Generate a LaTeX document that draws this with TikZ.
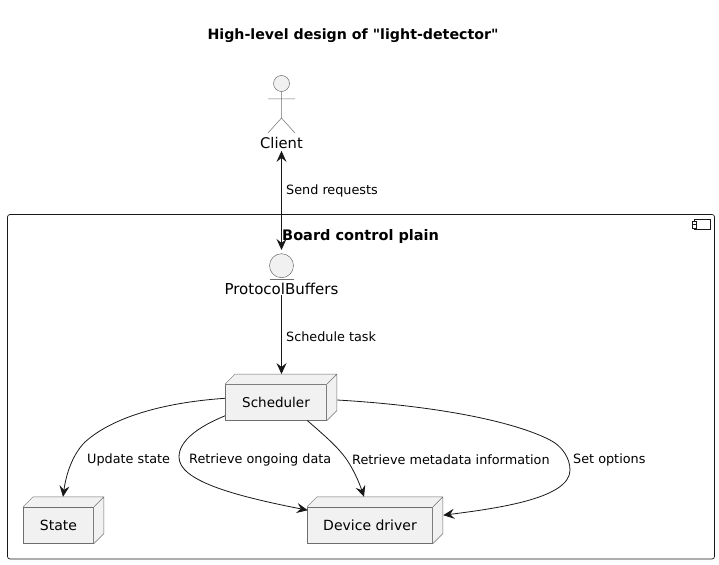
\documentclass[tikz,border=0pt]{standalone}
\usepackage{fontspec}
\setmainfont{DejaVu Sans}
\newfontfamily\plainquote{DejaVu Sans}
\usetikzlibrary{arrows.meta}
\definecolor{linecol}{HTML}{181818}
\definecolor{fillcol}{HTML}{F1F1F1}
\definecolor{edgecol}{HTML}{6E6E6E}
\tikzset{
  big/.style={font=\fontsize{14}{16}\selectfont,inner sep=0pt},
  small/.style={font=\fontsize{12.8}{15}\selectfont,inner sep=0pt,anchor=west},
  boxnode/.style={big,draw=edgecol,fill=fillcol,line width=.5pt},
  conn/.style={draw=linecol,line width=.8pt},
  >={Stealth[length=11pt,width=10pt,inset=4pt]}
}
\begin{document}
\begin{tikzpicture}[x=1pt,y=-1pt]
\useasboundingbox (0,0) rectangle (719,564);
\node [big,font=\fontsize{14.2}{16}\selectfont\plainquote\bfseries] (title) at (353,36) {High-level design of "light-detector"};
% container
\node [draw=linecol,line width=.7pt,rounded corners=2.5pt,minimum width=707pt,minimum height=344.5pt,inner sep=0pt] (plain) at (361,386.75) {};
\node [big,font=\fontsize{14.5}{16}\selectfont\bfseries,anchor=west] (plaintitle) at (282,236) {Board control plain};
\node [draw=linecol,line width=.7pt,minimum width=16pt,minimum height=10pt,inner sep=0pt] (icon) at (702,224.5) {};
\foreach \y in {222.8,226.4}
  \draw [draw=linecol,line width=.7pt,fill=white] (692,\y-1.6) rectangle (696,\y+1.6);
% actor
\node [circle,boxnode,minimum size=16pt] (head) at (281.5,83.5) {};
\coordinate (hip) at (281.5,118);
\coordinate (armleft) at (268,99);
\coordinate (armright) at (295,99);
\coordinate (legleft) at (268,133);
\coordinate (legright) at (295,133);
\draw [draw=edgecol,line width=.5pt] (head) -- (hip) -- (legleft) (hip) -- (legright) (armleft) -- (armright);
\node [big,font=\fontsize{14.7}{16}\selectfont] (client) at (281.5,143) {Client};
% boundary
\node [circle,boxnode,minimum size=24pt] (pbcircle) at (281.5,265.7) {};
\draw [draw=edgecol,line width=.5pt] (269.5,279) -- (293.5,279);
\node [big,font=\fontsize{15}{16}\selectfont] (pb) at (281.5,289) {ProtocolBuffers};
% boxes
\node [boxnode,font=\fontsize{13.5}{16}\selectfont,minimum width=101.4pt,minimum height=36pt] (sched) at (276,402.3) {Scheduler};
\node [boxnode,minimum width=70.4pt,minimum height=36.3pt] (state) at (58.5,525.2) {State};
\node [boxnode,minimum width=125.4pt,minimum height=36.3pt] (driver) at (370,525.2) {Device driver};
\foreach \n in {sched,state,driver} {
  \fill [fillcol] (\n.north west) -- ++(10pt,10pt) -| ([shift={(10pt,10pt)}]\n.south east) -- (\n.south east) -- (\n.north east) -- cycle;
  \draw [draw=edgecol,line width=.5pt] (\n.north west) -- ++(10pt,10pt) -| ([shift={(10pt,10pt)}]\n.south east) -- (\n.south east)
    (\n.north east) -- ++(10pt,10pt);
}
% connectors
\draw [conn,<->] (client.south) ++(0,2) -- ([yshift=3.5pt]pbcircle.north);
\draw [conn,->] (pb.south) ++(0,0) -- ([shift={(5.5pt,10pt)}]sched.north);
\draw [conn,->] ([yshift=4pt]sched.west) .. controls (170,402) and (115,415) .. (85,442)
  .. controls (72,455) and (66,475) .. ([shift={(4.5pt,10pt)}]state.north);
\draw [conn,->] ([yshift=-13.5pt]sched.west) .. controls (200,426) and (179,440) .. (179,457)
  .. controls (179,480) and (230,495) .. ([shift={(.7pt,15pt)}]driver.west);
\draw [conn,->] ([shift={(31.3pt,0pt)}]sched.south) .. controls (325,436) and (338,447) .. (347,460)
  .. controls (355,472) and (360,485) .. ([shift={(-6pt,10pt)}]driver.north);
\draw [conn,->] ([shift={(10.3pt,2.3pt)}]sched.east) .. controls (440,406) and (515,422) .. (550,440)
  .. controls (562,446) and (570,458) .. (570,470)
  .. controls (570,498) and (500,508) .. ([shift={(10.3pt,10pt)}]driver.east);
% labels
\node [small] (send) at (286,190.5) {Send requests};
\node [small] (task) at (286,336.5) {Schedule task};
\node [small] (update) at (87,459.5) {Update state};
\node [small] (ongoing) at (189,459.5) {Retrieve ongoing data};
\node [small] (meta) at (352,459.5) {Retrieve metadata information};
\node [small] (options) at (573,459.5) {Set options};
\end{tikzpicture}
\end{document}
